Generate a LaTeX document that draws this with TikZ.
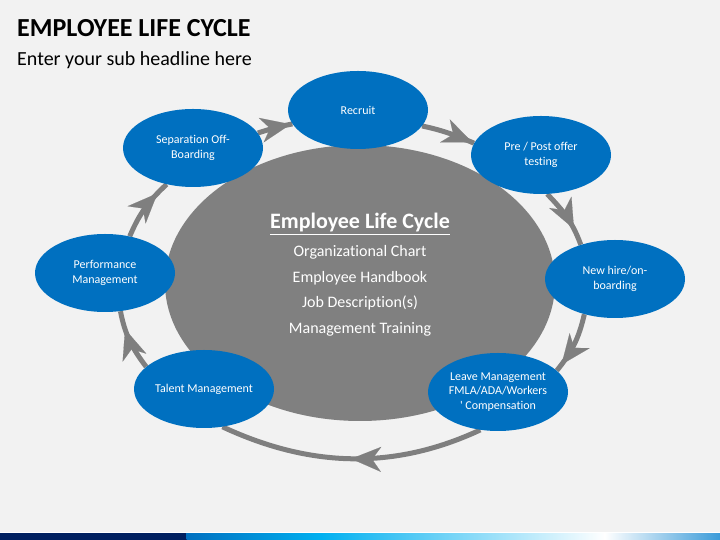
\documentclass[tikz,border=0pt]{standalone}
\usepackage{fontspec}
\setmainfont{Carlito}[Ligatures={NoCommon,NoContextual}]
\usetikzlibrary{arrows.meta,shapes.geometric,decorations.markings}
\definecolor{slidebg}{HTML}{F2F2F2}
\definecolor{stageblue}{HTML}{0070C0}
\definecolor{hubgray}{HTML}{808080}
\definecolor{ringgray}{HTML}{7F7F7F}
\definecolor{barnavy}{HTML}{002060}
\definecolor{barblue}{HTML}{0070C0}
\definecolor{barcyan}{HTML}{00B0F0}
\definecolor{barend}{HTML}{3A9BD9}
\pgfdeclarelayer{back}
\pgfdeclarelayer{ring}
\pgfsetlayers{back,ring,main}
\tikzset{
    stage/.style={
        ellipse,
        fill=stageblue,
        text=white,
        align=center,
        inner sep=0pt,
        minimum width=140pt,
        minimum height=78pt,
        font=\fontsize{12}{14.5}\selectfont,
    },
    hub/.style={
        ellipse,
        fill=hubgray,
        text=white,
        align=center,
        inner sep=0pt,
        minimum width=390pt,
        minimum height=276pt,
        font=\fontsize{16}{25.5}\selectfont,
    },
    ring/.style={
        draw=ringgray,
        line width=5pt,
    },
    flow/.style={
        postaction={decorate},
        decoration={markings,
            mark=at position #1 with {\arrow{Stealth[length=30pt,width=25pt,inset=9pt,line width=0.1pt]}}},
    },
}
\begin{document}
\begin{tikzpicture}[x=1pt,y=1pt]
    \begin{pgfonlayer}{back}
    \fill[slidebg] (0,0) rectangle (720,540);
    \fill[barnavy] (0,0) rectangle (187,7);
    \shade[left color=barblue,right color=barcyan] (186.5,0) rectangle (321,7);
    \shade[left color=barcyan,right color=white] (320.5,0) rectangle (605,7);
    \shade[left color=white,right color=barend] (604.5,0) rectangle (720,7);
    \fill[white] (0,7) rectangle (720,8);
    \end{pgfonlayer}
    \useasboundingbox (0,0) rectangle (720,540);

    % headline
    \node[anchor=base west,inner sep=0pt,font=\bfseries\fontsize{26}{30}\selectfont] (head) at (17,503.5) {EMPLOYEE LIFE CYCLE};
    \node[anchor=base west,inner sep=0pt,font=\fontsize{20}{24}\selectfont] (subhead) at (17,474) {Enter your sub headline here};

    % centre
    \node[hub,text depth=19pt] (hub) at (360,257) {{\fontsize{22}{26}\selectfont\underline{\textbf{Employee Life Cycle}}}\\[2.5pt]
        Organizational Chart\\ Employee Handbook\\ Job Description(s)\\ Management Training};

    % stages
    \node[stage] (recruit) at (358,430) {Recruit};
    \node[stage] (prepost) at (541,385) {Pre / Post offer\\testing};
    \node[stage] (newhire) at (615,261) {New hire/on-\\boarding};
    \node[stage] (leave) at (498,148) {Leave Management\\FMLA/ADA/Workers\\\textquotesingle{} Compensation};
    \node[stage] (talent) at (204,151) {Talent Management};
    \node[stage] (perf) at (105,267) {Performance\\Management};
    \node[stage] (separation) at (193,392) {Separation Off-\\Boarding};

    % cycle
    \begin{pgfonlayer}{ring}
    \draw[ring,flow=0.97] (recruit.346) to[out=-12,in=157] (prepost.170);
    \draw[ring,flow=0.72] (prepost.279) to[out=-46,in=110] (newhire.135);
    \draw[ring,flow=0.88] (newhire.229) to[out=-103,in=51] (leave.20);
    \draw[ring,flow=0.5] (leave.245) to[out=205,in=-25,looseness=0.95] (talent.296);
    \draw[ring,flow=0.7] (talent.159) to[out=127,in=-79] (perf.292);
    \draw[ring,flow=0.8] (perf.56) to[out=67,in=223] (separation.234);
    \draw[ring,flow=0.95] (separation.13) to[out=18,in=191] (recruit.192);
    \end{pgfonlayer}
\end{tikzpicture}
\end{document}
